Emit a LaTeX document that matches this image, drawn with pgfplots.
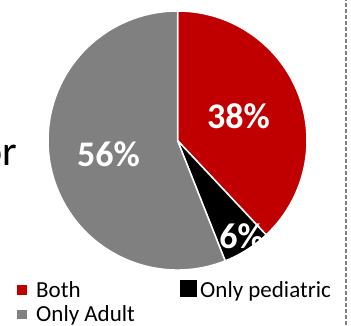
\documentclass[border=0pt]{standalone}
\usepackage{pgfplots}
\pgfplotsset{compat=1.18}
\usepackage{fontspec}
\setmainfont{Carlito}
\definecolor{pieRed}{HTML}{C00000}
\definecolor{pieGray}{HTML}{808080}
\begin{document}
\begin{tikzpicture}
\begin{axis}[
  x=1pt, y=1pt,
  xmin=0, xmax=351, ymin=0, ymax=325,
  hide axis, clip=false,
  anchor=origin, at={(0,0)},
]
% pie: 38% Both, 6% Only pediatric, 56% Only Adult (clockwise from top)
\fill[pieRed, draw=white, line width=1.5pt] (axis cs:177.5,184.5) -- ++(90:129.5pt)
  arc[start angle=90, end angle={90-38*3.6}, radius=129.5pt] -- cycle;
\fill[black, draw=white, line width=1.5pt] (axis cs:177.5,184.5) -- ++({90-38*3.6}:129.5pt)
  arc[start angle={90-38*3.6}, end angle={90-(38+6)*3.6}, radius=129.5pt] -- cycle;
\fill[pieGray, draw=white, line width=1.5pt] (axis cs:177.5,184.5) -- ++({90-(38+6)*3.6}:129.5pt)
  arc[start angle={90-(38+6)*3.6}, end angle={90-(38+6+56)*3.6}, radius=129.5pt] -- cycle;
\node[white, font=\fontsize{36}{40}\selectfont\bfseries, inner sep=0] at (axis cs:238.5,209) {38\%};
\node[white, font=\fontsize{36}{40}\selectfont\bfseries, inner sep=0] at (axis cs:108.5,171) {56\%};
\node[white, font=\fontsize{36}{40}\selectfont\bfseries, inner sep=0] at (axis cs:241.5,89) {6\%};
% cut-off text at left
\node[black, font=\fontsize{42}{46}\selectfont, inner sep=0, anchor=base east] at (axis cs:17.5,160) {or};
% legend
\fill[pieRed] (axis cs:17,30) rectangle (axis cs:27,40);
\node[font=\fontsize{23}{27}\selectfont, inner sep=0, anchor=base west] at (axis cs:36,28) {Both};
\fill[black] (axis cs:180,28) rectangle (axis cs:197,45);
\node[font=\fontsize{23}{27}\selectfont, inner sep=0, anchor=base west] at (axis cs:200,28) {Only pediatric};
\fill[pieGray] (axis cs:17,6) rectangle (axis cs:27,15);
\node[font=\fontsize{23}{27}\selectfont, inner sep=0, anchor=base west] at (axis cs:36,4) {Only Adult};
% dotted separator
\draw[pieGray, line width=2pt, dash pattern=on 4pt off 2pt] (axis cs:346,0) -- (axis cs:346,325);
\end{axis}
\pgfresetboundingbox
\path[use as bounding box] (0,0) rectangle (351pt,325pt);
\end{tikzpicture}
\end{document}
